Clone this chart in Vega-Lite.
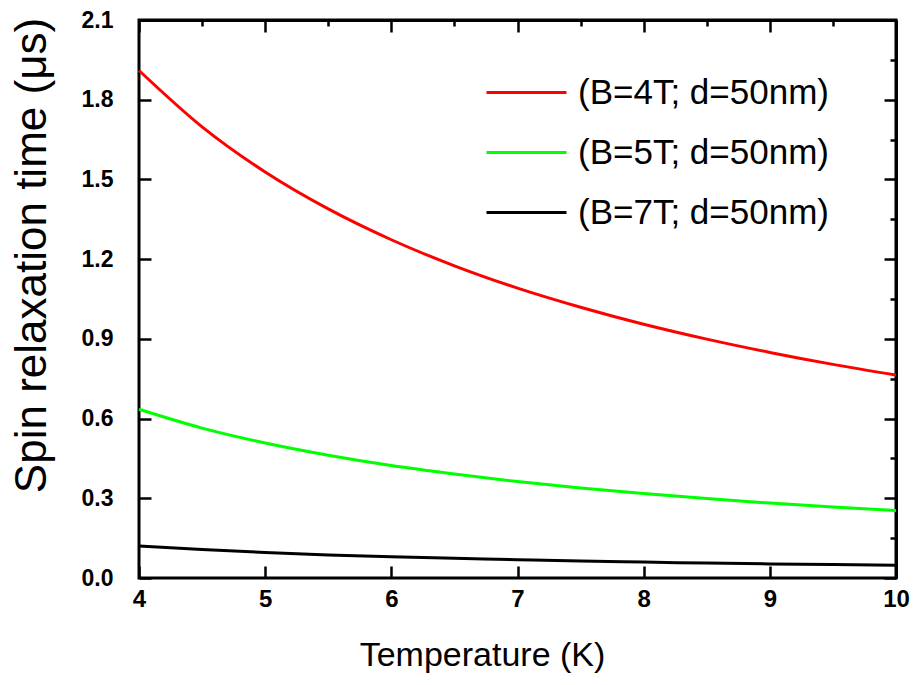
{
  "$schema": "https://vega.github.io/schema/vega-lite/v6.json",
  "autosize": "none",
  "width": 757,
  "height": 558,
  "padding": {"left": 139, "top": 20, "right": 19, "bottom": 107},
  "background": "white",
  "config": {
    "font": "Liberation Sans",
    "view": {"stroke": "black", "strokeWidth": 3},
    "axis": {"grid": false, "domainColor": "black", "domainWidth": 3, "tickColor": "black", "tickWidth": 2.5}
  },
  "data": {
    "values": [
      {"T": 4, "s": "(B=4T; d=50nm)", "v": 1.910},
      {"T": 4.5, "s": "(B=4T; d=50nm)", "v": 1.698},
      {"T": 5, "s": "(B=4T; d=50nm)", "v": 1.528},
      {"T": 5.5, "s": "(B=4T; d=50nm)", "v": 1.389},
      {"T": 6, "s": "(B=4T; d=50nm)", "v": 1.273},
      {"T": 6.5, "s": "(B=4T; d=50nm)", "v": 1.175},
      {"T": 7, "s": "(B=4T; d=50nm)", "v": 1.091},
      {"T": 7.5, "s": "(B=4T; d=50nm)", "v": 1.019},
      {"T": 8, "s": "(B=4T; d=50nm)", "v": 0.955},
      {"T": 8.5, "s": "(B=4T; d=50nm)", "v": 0.899},
      {"T": 9, "s": "(B=4T; d=50nm)", "v": 0.849},
      {"T": 9.5, "s": "(B=4T; d=50nm)", "v": 0.804},
      {"T": 10, "s": "(B=4T; d=50nm)", "v": 0.764},
      {"T": 4, "s": "(B=5T; d=50nm)", "v": 0.635},
      {"T": 4.5, "s": "(B=5T; d=50nm)", "v": 0.564},
      {"T": 5, "s": "(B=5T; d=50nm)", "v": 0.508},
      {"T": 5.5, "s": "(B=5T; d=50nm)", "v": 0.462},
      {"T": 6, "s": "(B=5T; d=50nm)", "v": 0.423},
      {"T": 6.5, "s": "(B=5T; d=50nm)", "v": 0.391},
      {"T": 7, "s": "(B=5T; d=50nm)", "v": 0.363},
      {"T": 7.5, "s": "(B=5T; d=50nm)", "v": 0.339},
      {"T": 8, "s": "(B=5T; d=50nm)", "v": 0.318},
      {"T": 8.5, "s": "(B=5T; d=50nm)", "v": 0.299},
      {"T": 9, "s": "(B=5T; d=50nm)", "v": 0.282},
      {"T": 9.5, "s": "(B=5T; d=50nm)", "v": 0.267},
      {"T": 10, "s": "(B=5T; d=50nm)", "v": 0.254},
      {"T": 4, "s": "(B=7T; d=50nm)", "v": 0.120},
      {"T": 4.5, "s": "(B=7T; d=50nm)", "v": 0.107},
      {"T": 5, "s": "(B=7T; d=50nm)", "v": 0.096},
      {"T": 5.5, "s": "(B=7T; d=50nm)", "v": 0.087},
      {"T": 6, "s": "(B=7T; d=50nm)", "v": 0.080},
      {"T": 6.5, "s": "(B=7T; d=50nm)", "v": 0.074},
      {"T": 7, "s": "(B=7T; d=50nm)", "v": 0.069},
      {"T": 7.5, "s": "(B=7T; d=50nm)", "v": 0.064},
      {"T": 8, "s": "(B=7T; d=50nm)", "v": 0.060},
      {"T": 8.5, "s": "(B=7T; d=50nm)", "v": 0.056},
      {"T": 9, "s": "(B=7T; d=50nm)", "v": 0.053},
      {"T": 9.5, "s": "(B=7T; d=50nm)", "v": 0.051},
      {"T": 10, "s": "(B=7T; d=50nm)", "v": 0.048}
    ]
  },
  "layer": [
    {
      "mark": {"type": "line", "interpolate": "monotone", "strokeWidth": 3},
      "encoding": {
        "x": {
          "field": "T", "type": "quantitative",
          "scale": {"domain": [4, 10], "nice": false, "zero": false},
          "axis": {
            "orient": "bottom", "offset": -12, "domain": false,
            "values": [4, 5, 6, 7, 8, 9, 10],
            "format": "d",
            "tickSize": 12,
            "labelFontWeight": "bold", "labelFontSize": 24, "labelColor": "black",
            "labelPadding": 9, "labelFlush": false,
            "title": "Temperature (K)", "titleFontWeight": "normal", "titleFontSize": 34, "titleColor": "black",
            "titleBaseline": "alphabetic", "titleX": 343, "titleY": 99
          }
        },
        "y": {
          "field": "v", "type": "quantitative",
          "scale": {"domain": [0, 2.1], "nice": false},
          "axis": {
            "orient": "left", "offset": -12, "domain": false,
            "values": [0, 0.3, 0.6, 0.9, 1.2, 1.5, 1.8, 2.1],
            "format": ".1f",
            "tickSize": 12,
            "labelFontWeight": "bold", "labelFontSize": 23, "labelColor": "black",
            "labelPadding": 26, "labelFlush": false,
            "title": "Spin relaxation time (μs)", "titleFontWeight": "normal", "titleFontSize": 44, "titleColor": "black",
            "titleBaseline": "alphabetic", "titleX": -106, "titleY": 235, "titleAngle": -90, "titleAlign": "center"
          }
        },
        "color": {
          "field": "s", "type": "nominal",
          "scale": {"domain": ["(B=4T; d=50nm)", "(B=5T; d=50nm)", "(B=7T; d=50nm)"], "range": ["#ff0000", "#00ff00", "#000000"]},
          "legend": {
            "orient": "none", "legendX": 346, "legendY": 31, "title": null,
            "symbolType": "stroke", "symbolSize": 6400, "symbolStrokeWidth": 3,
            "labelFont": "Liberation Sans", "labelFontSize": 35, "labelColor": "black", "labelLimit": 400,
            "rowPadding": -28, "labelOffset": 10
          }
        }
      }
    },
    {
      "mark": {"type": "line", "opacity": 0},
      "encoding": {
        "x": {
          "field": "T", "type": "quantitative",
          "axis": {
            "orient": "top", "title": null, "labels": false,
            "values": [4, 4.5, 5, 5.5, 6, 6.5, 7, 7.5, 8, 8.5, 9, 9.5, 10],
            "tickSize": {"condition": {"test": "datum.value % 1 === 0", "value": -12}, "value": -6}
          }
        },
        "y": {
          "field": "v", "type": "quantitative",
          "axis": {
            "orient": "right", "title": null, "labels": false,
            "values": [0, 0.15, 0.3, 0.45, 0.6, 0.75, 0.9, 1.05, 1.2, 1.35, 1.5, 1.65, 1.8, 1.95, 2.1],
            "tickSize": {"condition": {"test": "round(datum.value*100) % 30 === 0", "value": -12}, "value": -6}
          }
        },
        "detail": {"field": "s"}
      }
    }
  ],
  "resolve": {"axis": {"x": "independent", "y": "independent"}}
}
